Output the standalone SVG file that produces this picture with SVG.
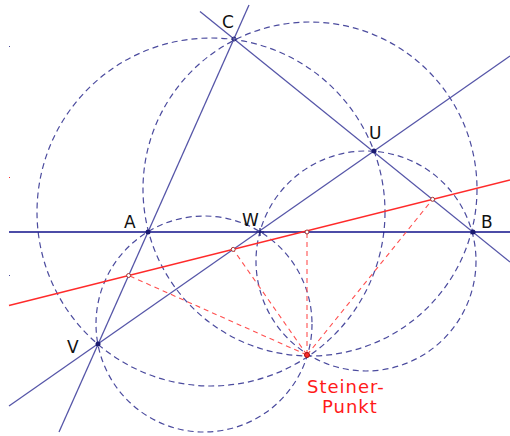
<svg xmlns="http://www.w3.org/2000/svg" width="510" height="436" viewBox="0 0 510 436">
<style>
.circ{fill:none;stroke:#4b4b9e;stroke-width:1.2;stroke-dasharray:6,4}
.ln{stroke:#5656a8;stroke-width:1.3;fill:none}
.ax{stroke:#10108a;stroke-width:1.3}
.red{stroke:#ff2a2a;stroke-width:1.4}
.rd{stroke:#ff5050;stroke-width:1.1;stroke-dasharray:5,4}
.pt{fill:#1a1a70}
.rp{fill:#ffffff;stroke:#a03030;stroke-width:1}
.lbl{font-family:"DejaVu Sans",sans-serif;font-size:17px;fill:#111}
.rl{font-family:"DejaVu Sans",sans-serif;font-size:18px;fill:#ff1a1a;letter-spacing:1px}
</style>
<rect width="510" height="436" fill="#ffffff"/>
<g id="circles">
<circle id="circle-CVU" class="circ" cx="211" cy="212" r="174"/>
<circle id="circle-ABC" class="circ" cx="310" cy="189" r="167"/>
<circle id="circle-AVW" class="circ" cx="204" cy="324" r="108"/>
<circle id="circle-BWU" class="circ" cx="366" cy="261" r="110"/>
</g>
<g id="connectors">
<line class="ax" x1="9" y1="232" x2="510" y2="232"/>
<line class="ln" x1="59" y1="432" x2="249" y2="5"/>
<line class="ln" x1="200" y1="11.5" x2="510" y2="262"/>
<line class="ln" x1="9" y1="406" x2="510" y2="56"/>
<line class="red" x1="9" y1="305.5" x2="510" y2="180"/>
<line class="rd" x1="307" y1="355" x2="128.6" y2="275.5"/>
<line class="rd" x1="307" y1="355" x2="233.2" y2="249.4"/>
<line class="rd" x1="307" y1="355" x2="307" y2="232"/>
<line class="rd" x1="307" y1="355" x2="432.6" y2="199.3"/>
</g>
<g id="node-A"><circle class="pt" cx="148" cy="232" r="2.5"/><text class="lbl" x="124" y="228">A</text></g>
<g id="node-B"><circle class="pt" cx="473" cy="232" r="2.5"/><text class="lbl" x="481" y="228">B</text></g>
<g id="node-C"><circle fill="none" stroke="#1a1a70" stroke-width="1" cx="234" cy="39" r="2"/><text class="lbl" x="222" y="28">C</text></g>
<g id="node-U"><circle class="pt" cx="374" cy="151" r="2.5"/><text class="lbl" x="369" y="139">U</text></g>
<g id="node-V"><circle class="pt" cx="98" cy="344" r="2.5"/><text class="lbl" x="67" y="353">V</text></g>
<g id="node-W"><path d="M256 232h8M260 228v8" stroke="#1a1a70" stroke-width="1.2"/><text class="lbl" x="242" y="226">W</text></g>
<g id="feet">
<circle class="rp" cx="128.6" cy="275.5" r="2"/>
<circle class="rp" cx="233.2" cy="249.4" r="2"/>
<circle class="rp" cx="307" cy="232" r="2"/>
<circle class="rp" cx="432.6" cy="199.3" r="2"/>
</g>
<g id="node-Steiner"><circle fill="#ff2a2a" stroke="#a01010" cx="307" cy="355" r="2.5"/>
<text class="rl" x="307" y="393">Steiner-</text>
<text class="rl" x="322" y="413">Punkt</text></g>
<g id="marks"><rect x="9" y="46" width="1" height="1" fill="#4b4b9e"/><rect x="9" y="177" width="1" height="1" fill="#ff2a2a"/><rect x="9" y="275" width="1" height="1" fill="#4b4b9e"/></g>
</svg>
